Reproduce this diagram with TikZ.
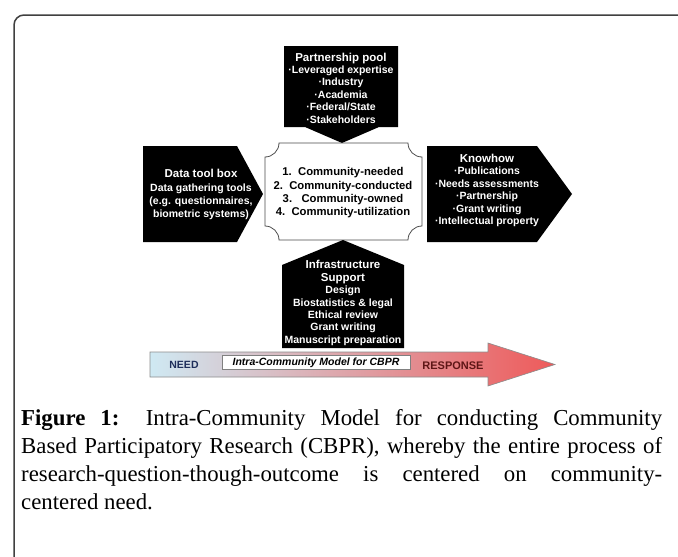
\documentclass[tikz,border=0pt]{standalone}
\usepackage{fontspec}
\newfontfamily\arial{Liberation Sans}
\newfontfamily\capserif{Liberation Serif}
\definecolor{needblue}{HTML}{CFE9F3}
\definecolor{respred}{HTML}{EE5A5A}
\definecolor{needtxt}{HTML}{1E2E5A}
\definecolor{resptxt}{HTML}{5E1616}
\begin{document}
\begin{tikzpicture}[x=1pt,y=-1pt,
  boxtext/.style={text=white, font=\arial\bfseries\fontsize{10.5}{12.4}\selectfont, align=center, inner sep=0pt},
  plaquetext/.style={text=black, font=\arial\bfseries\fontsize{11.3}{13.3}\selectfont, align=center, inner sep=0pt},
  blackshape/.style={fill=black},
]
\useasboundingbox (0,0) rectangle (678,557);
\fill[white] (0,0) rectangle (678,557);
% frame
\draw[line width=1.5pt, draw=black!75, rounded corners=10pt] (14,600) -- (14,15) -- (720,15);

% partnership pool (down arrow)
\fill[blackshape] (284,46) -- (398,46) -- (398,127) -- (379,127)
  -- (342,143) -- (305,127) -- (284,127) -- cycle;
\node[boxtext] (pp) at (341,88) {{\fontsize{11.5}{12.4}\selectfont Partnership pool}\\·Leveraged expertise\\·Industry\\·Academia\\·Federal/State\\·Stakeholders};

% central plaque
\draw[fill=white, draw=black!70, line width=0.8pt]
  (279,143) -- (408,143) .. controls (408,150.7) and (414.3,157) .. (422,157)
  -- (422,226) .. controls (414.3,226) and (408,232.3) .. (408,240)
  -- (279,240) .. controls (279,232.3) and (272.7,226) .. (265,226)
  -- (265,157) .. controls (272.7,157) and (279,150.7) .. (279,143) -- cycle;
\node[plaquetext] (core) at (343,193) {1.\ \ Community-needed\\2.\ \ Community-conducted\\3.\ \ \ Community-owned\\4.\ \ Community-utilization};

% data tool box (right arrow)
\fill[blackshape] (143,146) -- (237,146) -- (263,194) -- (237,242) -- (143,242) -- cycle;
\node[boxtext, font=\arial\bfseries\fontsize{10.5}{13.1}\selectfont] (dtb) at (201,194.5) {{\fontsize{11.5}{13.1}\selectfont Data tool box}\\Data gathering tools\\(e.g. questionnaires,\\biometric systems)};

% knowhow (right arrow)
\fill[blackshape] (427,146) -- (537,146) -- (572,194) -- (537,242) -- (427,242) -- cycle;
\node[boxtext] (kh) at (487,190.5) {{\fontsize{11.5}{12.4}\selectfont Knowhow}\\·Publications\\·Needs assessments\\·Partnership\\·Grant writing\\·Intellectual property};

% infrastructure (up arrow / house)
\fill[blackshape] (282,348) -- (282,265) -- (343,240) -- (404,265) -- (404,348) -- cycle;
\node[boxtext] (inf) at (343,303) {{\fontsize{11.5}{12.4}\selectfont Infrastructure}\\{\fontsize{11.5}{12.4}\selectfont Support}\\Design\\Biostatistics \& legal\\Ethical review\\Grant writing\\Manuscript preparation};

% need-response arrow
\shade[left color=needblue, middle color=white, right color=respred, draw=black!45, line width=0.6pt]
  (150,352) -- (488,352) -- (488,343) -- (555,364.5) -- (488,386) -- (488,377) -- (150,377) -- cycle;
\draw[fill=white, draw=black!50, line width=0.6pt] (222,355) rectangle (410,369.5);
\node[font=\arial\bfseries\itshape\fontsize{10.5}{12}\selectfont, inner sep=0pt] (model) at (316,362.5) {Intra-Community Model for CBPR};
\node[font=\arial\bfseries\fontsize{10.5}{12}\selectfont, text=needtxt, inner sep=0pt] (need) at (184,364.5) {NEED};
\node[font=\arial\bfseries\fontsize{11}{12}\selectfont, text=resptxt, inner sep=0pt] (resp) at (453,365.5) {RESPONSE};

% caption
\node[anchor=north west, inner sep=0pt, text width=641pt, align=justify,
      font=\capserif\fontsize{22.8}{28.2}\selectfont] (cap) at (21,409)
  {\textbf{Figure 1:} Intra-Community Model for conducting Community\linebreak
   Based Participatory Research (CBPR), whereby the entire process of\linebreak
   research-question-though-outcome is centered on community-\linebreak
   centered need.};
\end{tikzpicture}
\end{document}
